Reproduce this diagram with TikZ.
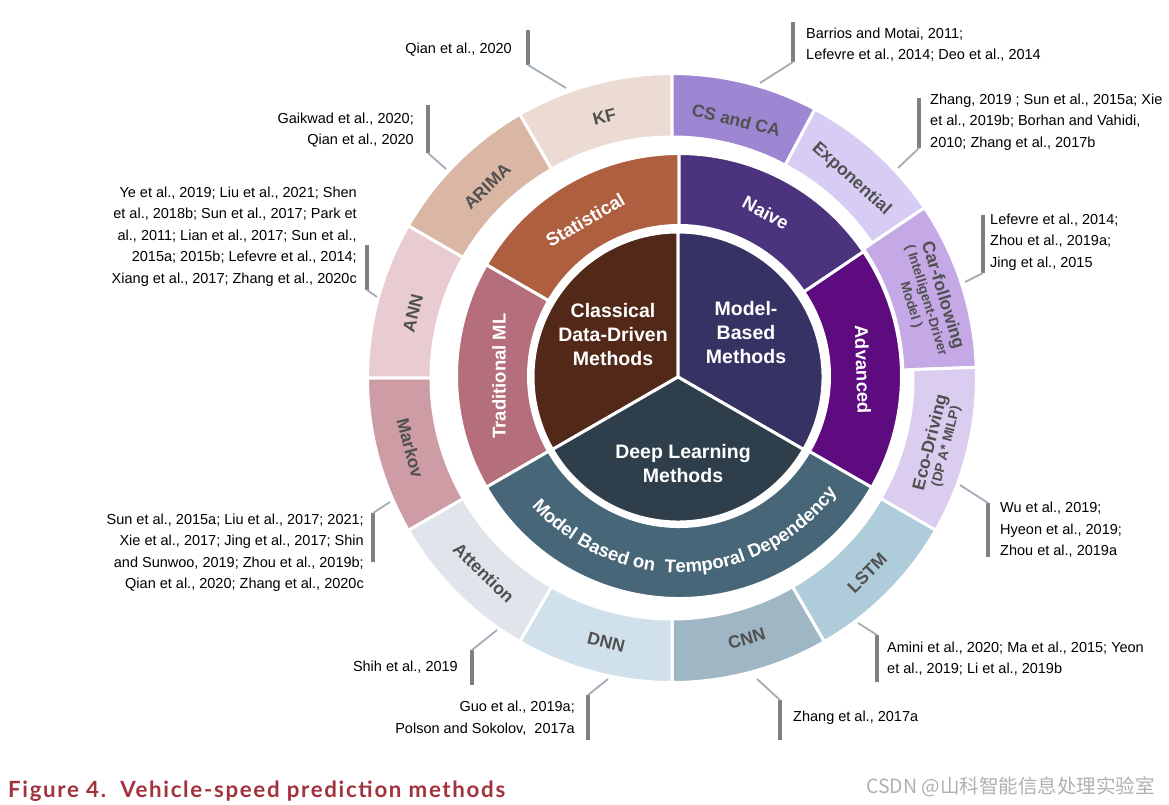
\documentclass[tikz,border=0pt]{standalone}
\usepackage{fontspec}
\setmainfont{Liberation Sans}
\newfontfamily\capfont[LetterSpace=7.5]{Lato}
\newfontfamily\cjkfont{Noto Sans CJK SC}
\usetikzlibrary{decorations.text}
\definecolor{cKF}{HTML}{EBDBD3}
\definecolor{cCS}{HTML}{9D87D3}
\definecolor{cExp}{HTML}{D7CDF4}
\definecolor{cCar}{HTML}{C4A9E6}
\definecolor{cEco}{HTML}{DACDF0}
\definecolor{cLSTM}{HTML}{AFCCDA}
\definecolor{cCNN}{HTML}{9FB6C4}
\definecolor{cDNN}{HTML}{D0E1EB}
\definecolor{cAtt}{HTML}{DFE5EB}
\definecolor{cMarkov}{HTML}{CD9CA4}
\definecolor{cANN}{HTML}{E8CCD1}
\definecolor{cARIMA}{HTML}{D9B7A4}
\definecolor{cStat}{HTML}{AE5F3F}
\definecolor{cTrad}{HTML}{B56F7C}
\definecolor{cTemp}{HTML}{476678}
\definecolor{cAdv}{HTML}{5D0B7F}
\definecolor{cNaive}{HTML}{4B337E}
\definecolor{cClass}{HTML}{522819}
\definecolor{cMB}{HTML}{363364}
\definecolor{cDL}{HTML}{2E3F4B}
\definecolor{labgray}{HTML}{505050}
\definecolor{bargray}{HTML}{808080}
\definecolor{leadgray}{HTML}{A3ADB8}
\definecolor{capred}{HTML}{A2323B}
\definecolor{wmgray}{HTML}{B0B0B0}
\tikzset{
 seg/.style={draw=white, line width=3pt},
 olab/.style={text=labgray, font=\bfseries\fontsize{17.5}{19}\selectfont, inner sep=0pt, align=center},
 mlab/.style={text=white, font=\bfseries\fontsize{18.5}{20}\selectfont, inner sep=0pt},
 ilab/.style={text=white, font=\bfseries\fontsize{19.5}{24}\selectfont, align=center, inner sep=0pt},
 cite/.style={font=\fontsize{14.5}{21.5}\selectfont, inner sep=0pt, text=black},
 citeR/.style={cite, anchor=east, align=right},
 citeL/.style={cite, anchor=west, align=left},
 bar/.style={draw=bargray, line width=4pt},
 lead/.style={draw=leadgray, line width=1.8pt},
}
\newcommand\annsec[5]{%
  \path[seg, fill=#5] (#1:#4) arc[start angle=#1, end angle=#2, radius=#4] -- (#2:#3) arc[start angle=#2, end angle=#1, radius=#3] -- cycle;}
\begin{document}
\begin{tikzpicture}[x=1pt,y=1pt]
\useasboundingbox (0,0) rectangle (1169,804);
\fill[white] (0,0) rectangle (1169,804);
% outer ring
\begin{scope}[shift={(672,426)}]
\annsec{90}{120}{241}{304.5}{cKF}
\annsec{62}{90}{241}{304.5}{cCS}
\annsec{34}{62}{241}{304.5}{cExp}
\annsec{2}{34}{231}{304.5}{cCar}
\annsec{-30}{2}{241}{304.5}{cEco}
\annsec{-60}{-30}{241}{304.5}{cLSTM}
\annsec{-90}{-60}{241}{304.5}{cCNN}
\annsec{-120}{-90}{241}{304.5}{cDNN}
\annsec{-150}{-120}{241}{304.5}{cAtt}
\annsec{-180}{-150}{241}{304.5}{cMarkov}
\annsec{150}{180}{241}{304.5}{cANN}
\annsec{120}{150}{241}{304.5}{cARIMA}
\node[olab, rotate=14.5] (kf) at (104.5:270) {KF};
\node[olab, rotate=-14] (csca) at (76:266) {CS and CA};
\node[olab, rotate=-42] (expo) at (48:268) {Exponential};
\node[olab, rotate=-73] (carf) at (17:267) {Car-following\\[-3pt]{\fontsize{13.5}{15}\selectfont ( Intelligent-Driver}\\[-3pt]{\fontsize{13.5}{15}\selectfont Model )}};
\node[olab, rotate=76] (eco) at (-14:274) {Eco-Driving\\[-4pt]{\fontsize{13.5}{15}\selectfont (DP A* MILP)}};
\node[olab, rotate=45] (lstm) at (-45:276) {LSTM};
\node[olab, rotate=16] (cnn) at (-74:271) {CNN};
\node[olab, rotate=-14] (dnn) at (-104:272) {DNN};
\node[olab, rotate=-44] (att) at (-134:271) {Attention};
\node[olab, rotate=-75] (markov) at (-165:271) {Markov};
\node[olab, rotate=76] (ann) at (166:267) {ANN};
\node[olab, rotate=44] (arima) at (134:266) {ARIMA};
\end{scope}
% middle ring
\begin{scope}[shift={(679,428)}]
\annsec{90}{150}{150.5}{222.5}{cStat}
\annsec{150}{210}{150.5}{222.5}{cTrad}
\annsec{210}{330}{150.5}{222.5}{cTemp}
\annsec{-30}{34}{150.5}{222.5}{cAdv}
\annsec{34}{90}{150.5}{222.5}{cNaive}
\node[mlab, rotate=30] (stat) at (121:182) {Statistical};
\node[mlab, rotate=-28] (naive) at (62:185) {Naive};
\node[mlab, rotate=-88] (adv) at (2:184) {Advanced};
\node[mlab, rotate=90] (trad) at (180:180) {Traditional ML};
\path[decorate, decoration={text along path, text align=center,
  text={|\bfseries\fontsize{18.5}{20}\selectfont\color{white}|Model Based on {\kern5pt}Temporal Dependency}}]
  (216:196.5) arc[start angle=216, end angle=329, radius=196.5];
\end{scope}
% inner disk
\begin{scope}[shift={(678,427)}]
\path[seg, fill=cClass] (0,0) -- (90:145) arc[start angle=90, end angle=210, radius=145] -- cycle;
\path[seg, fill=cMB] (0,0) -- (-30:145) arc[start angle=-30, end angle=90, radius=145] -- cycle;
\path[seg, fill=cDL] (0,0) -- (210:145) arc[start angle=210, end angle=330, radius=145] -- cycle;
\node[ilab] (cls) at (-65,42) {Classical\\Data-Driven\\Methods};
\node[ilab] (mb) at (68,44) {Model-\\Based\\Methods};
\node[ilab] (dl) at (5,-87) {Deep Learning\\Methods};
\end{scope}
% leader coordinates
\coordinate (b1a) at (528,774); \coordinate (b1b) at (528,739); \coordinate (e1) at (566,716);
\coordinate (b2a) at (793,782); \coordinate (b2b) at (793,742); \coordinate (e2) at (760,721);
\coordinate (b3a) at (428,699); \coordinate (b3b) at (428,651); \coordinate (e3) at (446,635);
\coordinate (b4a) at (919,706); \coordinate (b4b) at (919,656); \coordinate (e4) at (898,636);
\coordinate (b5a) at (367,559); \coordinate (b5b) at (367,514); \coordinate (e5) at (377,507);
\coordinate (b6a) at (983,589); \coordinate (b6b) at (983,531); \coordinate (e6) at (965,522);
\coordinate (b7a) at (373,242); \coordinate (b7b) at (373,291); \coordinate (e7) at (390,302);
\coordinate (b8a) at (988,247); \coordinate (b8b) at (988,301); \coordinate (e8) at (960,319);
\coordinate (b9a) at (472,119); \coordinate (b9b) at (472,154); \coordinate (e9) at (497,174);
\coordinate (b10a) at (877,122); \coordinate (b10b) at (877,169); \coordinate (e10) at (858,181);
\coordinate (b11a) at (588,64); \coordinate (b11b) at (588,109); \coordinate (e11) at (608,125);
\coordinate (b12a) at (780,64); \coordinate (b12b) at (780,104); \coordinate (e12) at (757,125);
\foreach \i in {1,...,12}{
  \draw[bar] (b\i a) -- (b\i b);
  \draw[lead] (b\i b) -- (e\i);
}
% citations
\node[citeR] (c1) at (512,754) {Qian et al., 2020};
\node[citeL] (c2) at (806,759.5) {Barrios and Motai, 2011;\\Lefevre et al., 2014; Deo et al., 2014};
\node[citeR] (c3) at (414,674) {Gaikwad et al., 2020;\\Qian et al., 2020};
\node[citeL] (c4) at (930,682) {Zhang, 2019 ; Sun et al., 2015a; Xie\\et al., 2019b; Borhan and Vahidi,\\2010; Zhang et al., 2017b};
\node[citeR] (c5) at (357,567.5) {Ye et al., 2019; Liu et al., 2021; Shen\\et al., 2018b; Sun et al., 2017; Park et\\al., 2011; Lian et al., 2017; Sun et al.,\\2015a; 2015b; Lefevre et al., 2014;\\Xiang et al., 2017; Zhang et al., 2020c};
\node[citeL] (c6) at (990,562) {Lefevre et al., 2014;\\Zhou et al., 2019a;\\Jing et al., 2015};
\node[citeR] (c7) at (364,251.5) {Sun et al., 2015a; Liu et al., 2017; 2021;\\Xie et al., 2017; Jing et al., 2017; Shin\\and Sunwoo, 2019; Zhou et al., 2019b;\\Qian et al., 2020; Zhang et al., 2020c};
\node[citeL] (c8) at (1000,274) {Wu et al., 2019;\\Hyeon et al., 2019;\\Zhou et al., 2019a};
\node[citeR] (c9) at (458,137) {Shih et al., 2019};
\node[citeL] (c10) at (887,145.5) {Amini et al., 2020; Ma et al., 2015; Yeon\\et al., 2019; Li et al., 2019b};
\node[citeR] (c11) at (575,86) {Guo et al., 2019a;\\Polson and Sokolov,\ \ 2017a};
\node[citeL] (c12) at (793,86) {Zhang et al., 2017a};
% caption and watermark
\node[anchor=base west, inner sep=0pt, font=\capfont\bfseries\fontsize{22.3}{26}\selectfont, text=capred] (cap) at (8,6.3) {Figure 4.\ \ Vehicle-speed prediction methods};
\node[anchor=base east, inner sep=0pt, font=\cjkfont\fontsize{19.5}{22}\selectfont, text=wmgray] (wm) at (1155,11) {CSDN @山科智能信息处理实验室};
\end{tikzpicture}
\end{document}
